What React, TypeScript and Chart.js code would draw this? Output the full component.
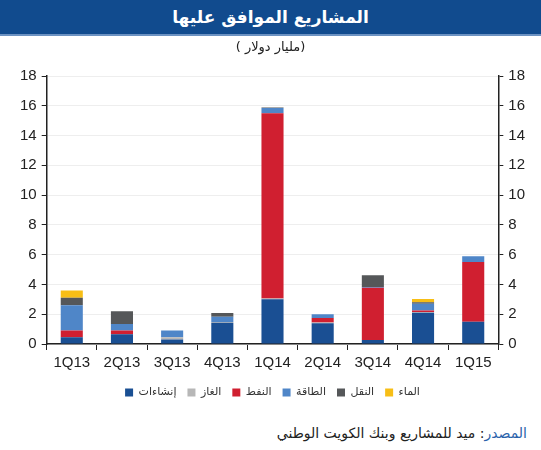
import React, { useEffect, useRef } from "react";
import { Chart, registerables } from "chart.js";

Chart.register(...registerables);

const categories = ["1Q13", "2Q13", "3Q13", "4Q13", "1Q14", "2Q14", "3Q14", "4Q14", "1Q15"];
const construction = [0.45, 0.65, 0.3, 1.43, 3.0, 1.4, 0.27, 2.1, 1.5];
const gas = [0, 0, 0.15, 0.05, 0.05, 0.05, 0, 0.05, 0];
const oil = [0.45, 0.25, 0, 0, 12.45, 0.3, 3.5, 0.1, 4.0];
const power = [1.7, 0.45, 0.45, 0.35, 0.35, 0.25, 0.05, 0.45, 0.4];
const transport = [0.5, 0.85, 0, 0.25, 0.03, 0, 0.8, 0.1, 0];
const water = [0.5, 0, 0, 0, 0, 0, 0, 0.22, 0];
const seriesNames = ["إنشاءات", "الغاز", "النفط", "الطاقة", "النقل", "الماء"];
const seriesColors = ["#1a4f93", "#b7b7b7", "#d01f30", "#4f86c8", "#555759", "#f7be16"];
const yTicks = [0, 2, 4, 6, 8, 10, 12, 14, 16, 18];

const arabicFont = "'DejaVu Sans', 'Noto Sans', sans-serif";

export default function App() {
  const ref = useRef<HTMLCanvasElement | null>(null);
  useEffect(() => {
    if (!ref.current) return;
    const values = [construction, gas, oil, power, transport, water];
    const chart = new Chart(ref.current, {
      type: "bar",
      data: {
        labels: categories,
        datasets: values.map((v, i) => ({
          label: seriesNames[i],
          data: v,
          backgroundColor: seriesColors[i],
          borderWidth: 0,
          barPercentage: 0.44,
          categoryPercentage: 1,
          yAxisID: "y",
        })),
      },
      options: {
        animation: false,
        responsive: false,
        layout: { padding: { top: 76, left: 15, right: 11, bottom: 0 } },
        plugins: {
          tooltip: { enabled: false },
          legend: {
            position: "bottom",
            labels: {
              boxWidth: 8,
              boxHeight: 8,
              padding: 11,
              color: "#333",
              font: { size: 11, family: arabicFont },
            },
          },
        },
        scales: {
          x: {
            stacked: true,
            grid: {
              offset: true,
              drawOnChartArea: false,
              tickLength: 6,
              tickColor: "#222",
            },
            border: { color: "#222", width: 1.5 },
            ticks: {
              color: "#222",
              font: { size: 15, family: "'Liberation Sans', Arial, sans-serif" },
              padding: 4,
            },
          },
          y: {
            stacked: true,
            position: "left",
            min: 0,
            max: 18,
            afterBuildTicks: (axis: any) => {
              axis.ticks = yTicks.map((v) => ({ value: v }));
            },
            grid: { color: "#eeeeee", tickColor: "#222", tickLength: 5 },
            border: { color: "#222", width: 1.5 },
            ticks: {
              color: "#222",
              font: { size: 15, family: "'Liberation Sans', Arial, sans-serif" },
              padding: 5,
            },
          },
          y2: {
            position: "right",
            min: 0,
            max: 18,
            afterBuildTicks: (axis: any) => {
              axis.ticks = yTicks.map((v) => ({ value: v }));
            },
            grid: { drawOnChartArea: false, tickColor: "#222", tickLength: 5 },
            border: { color: "#222", width: 1.5 },
            ticks: {
              color: "#222",
              font: { size: 15, family: "'Liberation Sans', Arial, sans-serif" },
              padding: 5,
            },
          },
        },
      },
    });
    return () => chart.destroy();
  }, []);

  return (
    <div style={{ position: "absolute", left: 0, top: 0, width: 541, height: 450, background: "#fff", overflow: "hidden" }}>
      <canvas ref={ref} width={541} height={408} style={{ position: "absolute", left: 0, top: 0, width: 541, height: 408 }} />
      <div
        style={{
          position: "absolute",
          left: 0,
          top: 0,
          width: 541,
          height: 34,
          background: "#114b8e",
          borderBottom: "2px solid #6c92c2",
          color: "#fff",
          fontFamily: arabicFont,
          fontWeight: "bold",
          fontSize: 17,
          lineHeight: "34px",
          textAlign: "center",
          direction: "rtl",
        }}
      >
        المشاريع الموافق عليها
      </div>
      <div
        style={{
          position: "absolute",
          left: 0,
          top: 38,
          width: 541,
          color: "#222",
          fontFamily: arabicFont,
          fontSize: 13,
          lineHeight: "18px",
          textAlign: "center",
          direction: "rtl",
        }}
      >
        (مليار دولار )
      </div>
      <div
        style={{
          position: "absolute",
          right: 14,
          top: 423,
          color: "#222",
          fontFamily: arabicFont,
          fontSize: 14,
          lineHeight: "20px",
          textAlign: "right",
          direction: "rtl",
          whiteSpace: "nowrap",
        }}
      >
        <span style={{ color: "#2a62aa" }}>المصدر</span>: ميد للمشاريع وبنك الكويت الوطني
      </div>
    </div>
  );
}
